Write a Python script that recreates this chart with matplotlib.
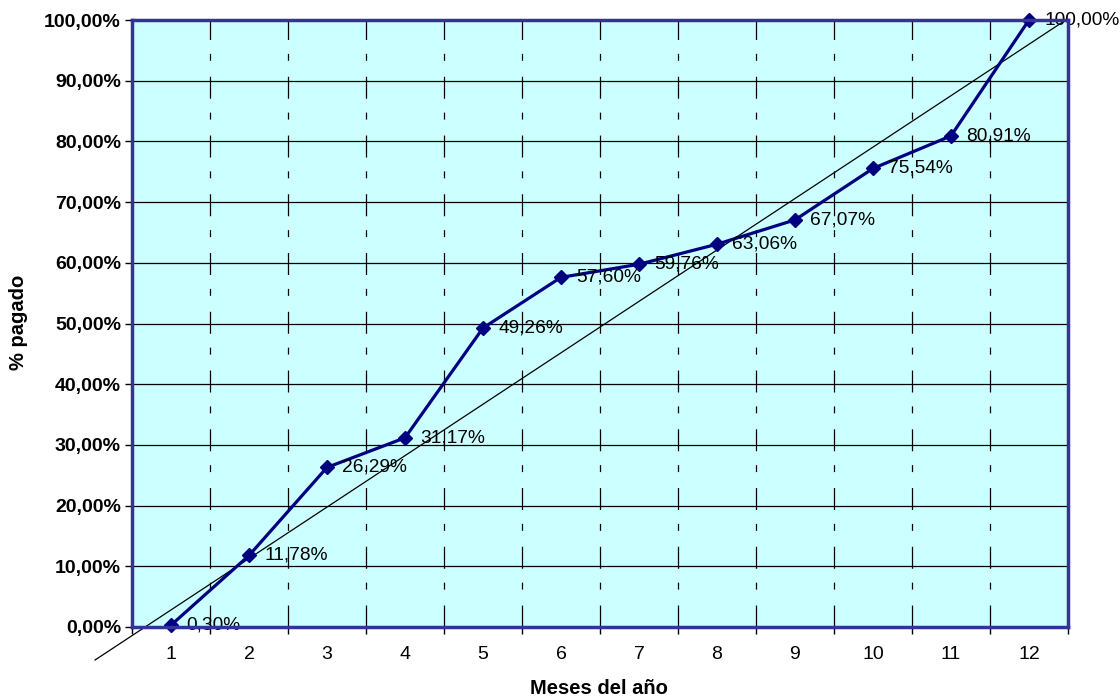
import matplotlib
matplotlib.use("Agg")
import matplotlib.pyplot as plt

plt.rcParams['font.family'] = ['Liberation Sans', 'DejaVu Sans']
plt.rcParams['lines.scale_dashes'] = False

months = [1, 2, 3, 4, 5, 6, 7, 8, 9, 10, 11, 12]
paid = [0.30, 11.78, 26.29, 31.17, 49.26, 57.60, 59.76, 63.06, 67.07, 75.54, 80.91, 100.00]
trend_x = [0.026, 12.436]
trend_y = [-5.44, 99.7]
y_ticks = [0, 10, 20, 30, 40, 50, 60, 70, 80, 90, 100]

def fmt_pct(v):
    return f"{v:.2f}".replace('.', ',') + '%'

fig = plt.figure(figsize=(11.2, 6.97), dpi=100)
ax = fig.add_axes([132/1120, 1-627/697, (1068-132)/1120, (627-20)/697])
ax.set_facecolor('#CCFFFF')
ax.set_xlim(0.5, 12.5)
ax.set_ylim(0, 100)

# horizontal gridlines
for yv in y_ticks[1:-1]:
    ax.axhline(yv, color='black', lw=0.9, zorder=1)
# vertical dashed gridlines at category boundaries
for xv in range(1, 12):
    ax.axvline(xv + 0.5, color='black', lw=0.9, zorder=1,
               linestyle=(0, (15.8, 11.5, 5, 10)))

ax.plot(months, paid, color='#000080', lw=2.3, marker='D', markersize=7,
        zorder=4, clip_on=False)
ax.plot(trend_x, trend_y, color='black', lw=0.9, zorder=3, clip_on=False)

for xm, v in zip(months, paid):
    ax.annotate(fmt_pct(v), (xm, v), xytext=(11, 0), textcoords='offset points',
                ha='left', va='center', fontsize=13.8, color='black', zorder=5,
                annotation_clip=False)

ax.set_yticks(y_ticks)
ax.set_yticklabels([fmt_pct(v) for v in y_ticks], fontsize=14, fontweight='bold')
ax.set_xticks([m + 0.5 for m in [0] + months])
ax.set_xticklabels([])
ax.set_xticks(months, minor=True)
ax.set_xticklabels([str(m) for m in months], minor=True, fontsize=14)
ax.tick_params(axis='x', which='minor', length=0, pad=14)
ax.tick_params(axis='x', which='major', length=5, width=1, direction='out')
ax.tick_params(axis='y', length=5, width=1, direction='out', pad=3)

for s in ax.spines.values():
    s.set_color('#333399')
    s.set_linewidth(2.5)
    s.set_zorder(6)

fig.text(599/1120, 1-688/697, 'Meses del año', ha='center', va='center',
         fontsize=14.5, fontweight='bold')
fig.text(19/1120, 1-322/697, '% pagado', ha='center', va='center',
         fontsize=14.5, fontweight='bold', rotation=90)

fig.savefig('out.png', dpi=100)
